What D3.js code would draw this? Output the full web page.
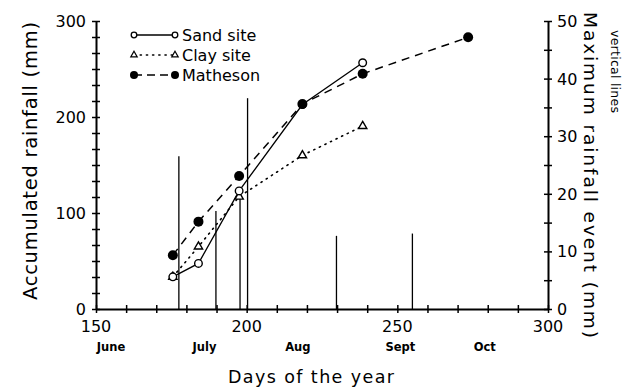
<!DOCTYPE html>
<html>
<head>
<meta charset="utf-8">
<script src="https://cdn.jsdelivr.net/npm/d3@7"></script>
<style>
  html, body { margin: 0; padding: 0; background: #fff; }
  svg { display: block; font-family: "DejaVu Sans", sans-serif; }
</style>
</head>
<body>
<svg id="chart" width="625" height="388"></svg>
<script>
// ---- data ----
const siteDays = [175.5, 184, 197.5, 218.5, 238.5];
const sandSite = [33.5, 47.5, 123, 213, 256.5];
const claySite = [33.5, 65, 117, 160, 190.5];
const mathesonDays = [175.5, 184, 197.5, 218.5, 238.5, 273.5];
const matheson = [56, 91, 138.5, 213.5, 245, 283];
const eventDays = [177.5, 189.8, 197.8, 200.3, 229.8, 255];
const eventMax = [26.5, 17, 19.5, 36.6, 12.7, 13.1];
const leftTicks = [0, 100, 200, 300];
const rightTicks = [0, 10, 20, 30, 40, 50];
const xTicks = [150, 200, 250, 300];
const months = ["June", "July", "Aug", "Sept", "Oct"];
const monthDays = [155, 186, 217, 251, 279];

// ---- scales ----
const svg = d3.select("#chart");
const x = d3.scaleLinear().domain([150, 300]).range([96, 548]);
const yL = d3.scaleLinear().domain([0, 300]).range([309, 21]);
const yR = d3.scaleLinear().domain([0, 50]).range([309, 21]);

function crossTicks(g, horizontal, size) {
  g.selectAll(".tick line").each(function () {
    const l = d3.select(this);
    if (horizontal) l.attr("y1", -size).attr("y2", size);
    else l.attr("x1", -size).attr("x2", size);
  }).attr("stroke", "#000").attr("stroke-width", 1.5);
  g.select(".domain").attr("stroke", "#000").attr("stroke-width", 2);
}

// ---- event bars (right axis) ----
svg.append("g").selectAll("line").data(eventDays).join("line")
  .attr("x1", d => x(d)).attr("x2", d => x(d))
  .attr("y1", yR(0)).attr("y2", (d, i) => yR(eventMax[i]))
  .attr("stroke", "#000").attr("stroke-width", 1.3);

// ---- axes ----
const gL = svg.append("g").attr("transform", `translate(${x(150)},0)`);
gL.call(d3.axisLeft(yL).tickValues(d3.range(0, 300.01, 100 / 6)).tickFormat("").tickSizeOuter(0));
crossTicks(gL, false, 4);
svg.append("g").selectAll("text").data(leftTicks).join("text")
  .attr("x", 86).attr("y", d => yL(d) + 6).attr("text-anchor", "end")
  .attr("font-size", 16).text(d => d);

const gR = svg.append("g").attr("transform", `translate(${x(300)},0)`);
gR.call(d3.axisRight(yR).tickValues(d3.range(0, 50.01, 5)).tickFormat("").tickSizeOuter(0));
crossTicks(gR, false, 4);
svg.append("g").selectAll("text").data(rightTicks).join("text")
  .attr("x", 557).attr("y", d => yR(d) + 6).attr("text-anchor", "start")
  .attr("font-size", 16).text(d => d);

const gB = svg.append("g").attr("transform", `translate(0,${yL(0)})`);
gB.call(d3.axisBottom(x).tickValues(d3.range(150, 300.01, 10)).tickFormat("").tickSizeOuter(0));
crossTicks(gB, true, 4);
svg.append("g").selectAll("text").data(xTicks).join("text")
  .attr("x", d => x(d)).attr("y", 332).attr("text-anchor", "middle")
  .attr("font-size", 16).text(d => d);

svg.append("g").selectAll("text").data(months).join("text")
  .attr("x", (d, i) => x(monthDays[i])).attr("y", 351).attr("text-anchor", "middle")
  .attr("font-size", 11.5).attr("font-weight", "bold").text(d => d);

// axis titles
svg.append("text").attr("x", 228).attr("y", 383)
  .attr("font-size", 17.5).attr("textLength", 166).attr("lengthAdjust", "spacing")
  .text("Days of the year");
svg.append("text").attr("transform", "translate(37,300) rotate(-90)")
  .attr("font-size", 19.5).attr("textLength", 278).attr("lengthAdjust", "spacing")
  .text("Accumulated rainfall (mm)");
svg.append("text").attr("transform", "translate(584,12) rotate(90)")
  .attr("font-size", 18.5).attr("textLength", 326).attr("lengthAdjust", "spacing")
  .text("Maximum rainfall event (mm)");
svg.append("text").attr("transform", "translate(611,30) rotate(90)")
  .attr("font-size", 12.5).attr("textLength", 83).attr("lengthAdjust", "spacing")
  .text("vertical lines");

// ---- series ----
const lineL = (days) => d3.line().x((d, i) => x(days[i])).y(d => yL(d));

svg.append("path").datum(claySite).attr("d", lineL(siteDays))
  .attr("fill", "none").attr("stroke", "#000").attr("stroke-width", 1.6)
  .attr("stroke-dasharray", "1.2,5").attr("stroke-linecap", "round");
svg.append("path").datum(sandSite).attr("d", lineL(siteDays))
  .attr("fill", "none").attr("stroke", "#000").attr("stroke-width", 1.3);
svg.append("path").datum(matheson).attr("d", lineL(mathesonDays))
  .attr("fill", "none").attr("stroke", "#000").attr("stroke-width", 1.5)
  .attr("stroke-dasharray", "8,6");

const tri = d3.symbol().type(d3.symbolTriangle).size(30);
svg.append("g").selectAll("path").data(claySite).join("path")
  .attr("d", tri).attr("transform", (d, i) => `translate(${x(siteDays[i])},${yL(d)})`)
  .attr("fill", "#fff").attr("stroke", "#000").attr("stroke-width", 1.4);
svg.append("g").selectAll("circle").data(sandSite).join("circle")
  .attr("cx", (d, i) => x(siteDays[i])).attr("cy", d => yL(d)).attr("r", 3.8)
  .attr("fill", "#fff").attr("stroke", "#000").attr("stroke-width", 1.4);
svg.append("g").selectAll("circle").data(matheson).join("circle")
  .attr("cx", (d, i) => x(mathesonDays[i])).attr("cy", d => yL(d)).attr("r", 5)
  .attr("fill", "#000");

// ---- legend ----
const legend = [
  { name: "Sand site", dash: null, mark: "o" },
  { name: "Clay site", dash: "1.2,5", mark: "t" },
  { name: "Matheson", dash: "8,5", mark: "f" }
];
const lg = svg.append("g");
legend.forEach((d, i) => {
  const cy = 35 + i * 20;
  lg.append("line").attr("x1", 134).attr("x2", 175).attr("y1", cy).attr("y2", cy)
    .attr("stroke", "#000").attr("stroke-width", d.mark === "t" ? 1.6 : 1.4)
    .attr("stroke-dasharray", d.dash).attr("stroke-linecap", d.mark === "t" ? "round" : "butt");
  [134, 175].forEach(cx => {
    if (d.mark === "o") lg.append("circle").attr("cx", cx).attr("cy", cy).attr("r", 2.8)
      .attr("fill", "#fff").attr("stroke", "#000").attr("stroke-width", 1.3);
    else if (d.mark === "t") lg.append("path").attr("d", d3.symbol().type(d3.symbolTriangle).size(18))
      .attr("transform", `translate(${cx},${cy})`).attr("fill", "#fff").attr("stroke", "#000").attr("stroke-width", 1.2);
    else lg.append("circle").attr("cx", cx).attr("cy", cy).attr("r", 4).attr("fill", "#000");
  });
  lg.append("text").attr("x", 182).attr("y", cy + 6).attr("font-size", 16).text(d.name);
});
</script>
</body>
</html>
